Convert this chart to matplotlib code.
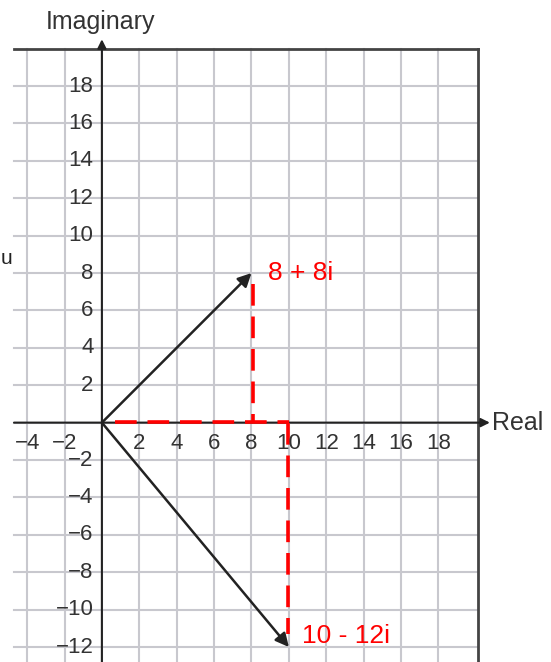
import matplotlib
matplotlib.use("Agg")
import matplotlib.pyplot as plt

plt.rcParams['font.family'] = ['Liberation Sans', 'DejaVu Sans']

# data
x_ticks = [-4, -2, 2, 4, 6, 8, 10, 12, 14, 16, 18]
y_ticks = [-12, -10, -8, -6, -4, -2, 2, 4, 6, 8, 10, 12, 14, 16, 18]
grid_x = [-4, -2, 0, 2, 4, 6, 8, 10, 12, 14, 16, 18]
grid_y = [-12, -10, -8, -6, -4, -2, 0, 2, 4, 6, 8, 10, 12, 14, 16, 18]
vectors = [(8, 8), (10, -12)]
vector_labels = ["8 + 8i", "10 - 12i"]

fig = plt.figure(figsize=(5.51, 6.62), dpi=100)
ax = fig.add_axes([0, 0, 1, 1])
ax.set_xlim(-5.45, 24.02)
ax.set_ylim(-12.80, 22.60)
ax.axis('off')

left, right, top, bottom = -4.7, 20.1, 20.0, -12.8
gc = '#c8c8ce'
for gx in grid_x:
    ax.plot([gx, gx], [bottom, top], color=gc, lw=1.5, zorder=1)
for gy in grid_y:
    ax.plot([left, right], [gy, gy], color=gc, lw=1.5, zorder=1)
# border
ax.plot([left, right], [top, top], color='#444444', lw=2, zorder=2)
ax.plot([right, right], [top, bottom], color='#444444', lw=2, zorder=2)

# axes with arrows
ax.annotate('', xy=(20.75, 0), xytext=(left, 0),
            arrowprops=dict(arrowstyle='-|>', color='#222222', lw=1.5, mutation_scale=13, shrinkA=0, shrinkB=0), zorder=3)
ax.annotate('', xy=(0, 20.5), xytext=(0, bottom),
            arrowprops=dict(arrowstyle='-|>', color='#222222', lw=1.5, mutation_scale=13, shrinkA=0, shrinkB=0), zorder=3)

for t in x_ticks:
    ax.text(t, -1.1, f"{t}".replace('-', '\u2212'), ha='center', va='center', fontsize=16, color='#333333', zorder=4)
for t in y_ticks:
    ax.text(-0.45, t, f"{t}".replace('-', '\u2212'), ha='right', va='center', fontsize=16, color='#333333', zorder=4)

ax.text(-0.05, 21.4, "Imaginary", ha='center', va='center', fontsize=18, color='#333333')
ax.text(20.85, 0, "Real", ha='left', va='center', fontsize=18, color='#333333')
fig.text(1/551, 1 - 258/662, "u", ha='left', va='center', fontsize=15, color='#222222')

# red dashed projections
red = '#ff0000'
ax.plot([0.7, 10], [0.05, 0.05], color=red, lw=2.6, dashes=(6, 3), zorder=3)
ax.plot([8.1, 8.1], [7.4, 0], color=red, lw=2.6, dashes=(6, 3), zorder=3)
ax.plot([9.95, 9.95], [0, -11.3], color=red, lw=2.6, dashes=(6, 3), zorder=3)

# vectors
for (vx, vy) in vectors:
    ax.annotate('', xy=(vx, vy), xytext=(0, 0),
                arrowprops=dict(arrowstyle='-|>', color='#222222', lw=1.8, mutation_scale=20, shrinkA=0, shrinkB=0), zorder=5)

ax.text(8.9, 8.0, vector_labels[0], ha='left', va='center', fontsize=19, color=red, zorder=6)
ax.text(10.7, -11.4, vector_labels[1], ha='left', va='center', fontsize=19, color=red, zorder=6)

fig.savefig('out.png', dpi=100)
